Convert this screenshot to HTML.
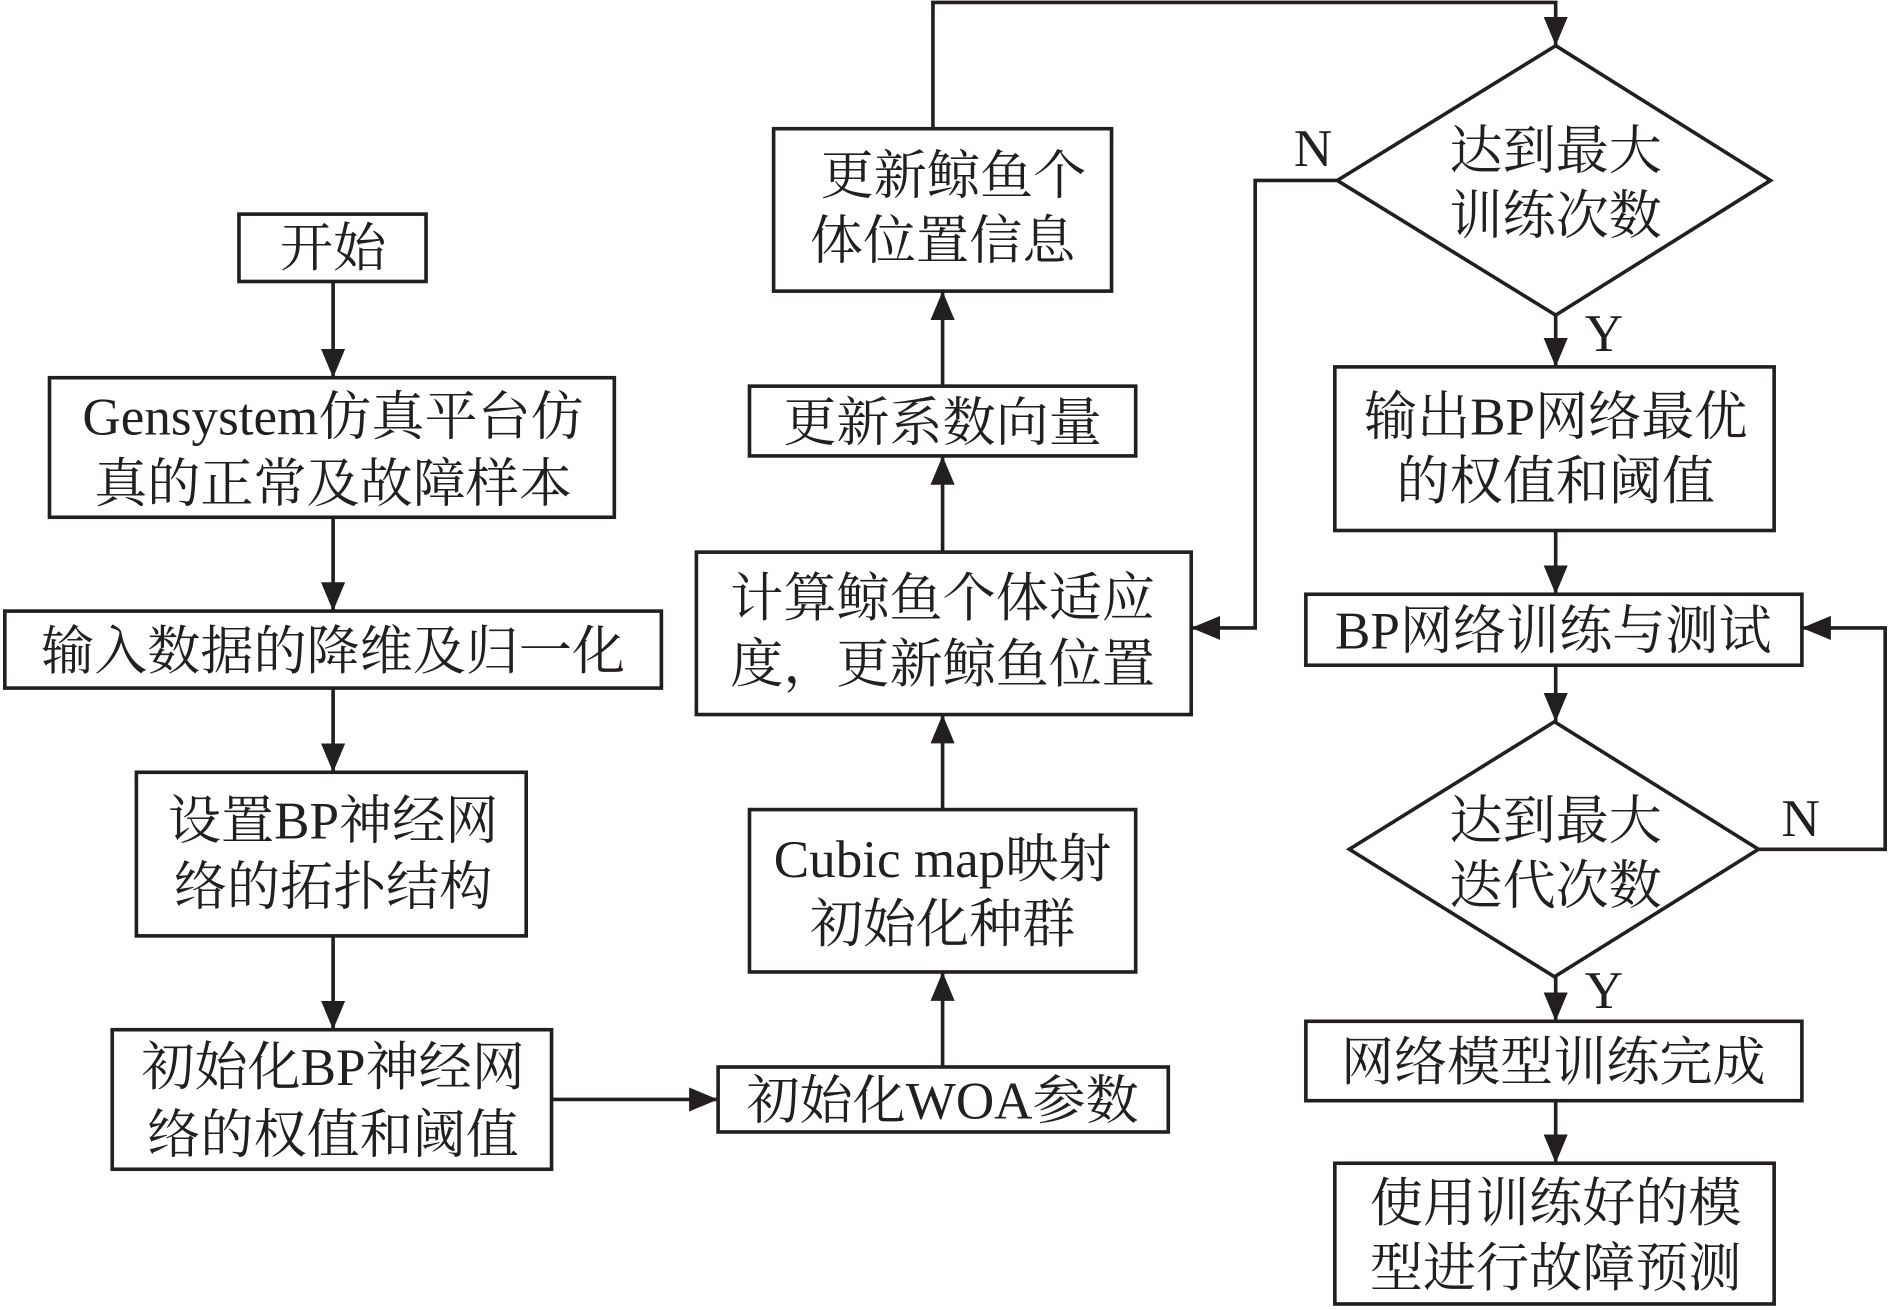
<!DOCTYPE html>
<html><head><meta charset="utf-8"><style>
html,body{margin:0;padding:0;background:#fff;}
svg{display:block;}
text{font-family:"Liberation Serif","Noto Serif CJK SC",serif;font-size:44px;fill:#231f20;text-anchor:middle;}
.l{font-size:42px;}
</style></head><body>
<svg width="1890" height="1310" viewBox="0 0 1566 1089" preserveAspectRatio="none" xmlns="http://www.w3.org/2000/svg">
<defs><marker id="a" markerWidth="10" markerHeight="10" refX="9" refY="5" orient="auto" markerUnits="userSpaceOnUse" viewBox="0 0 10 10"><path d="M0,0 L10,5 L0,10 z" fill="#231f20"/></marker>
<marker id="b" markerWidth="24" markerHeight="24" refX="24" refY="12" orient="auto" markerUnits="userSpaceOnUse" viewBox="0 0 24 24"><path d="M0,2 L24,12 L0,22 z" fill="#231f20"/></marker></defs>
<g fill="none" stroke="#231f20" stroke-width="3">
<rect x="198" y="178" width="155" height="56"/>
<rect x="41" y="314" width="468" height="116"/>
<rect x="4" y="508" width="544" height="64"/>
<rect x="113" y="642" width="323" height="136"/>
<rect x="93" y="856" width="364" height="116"/>
<rect x="595" y="887" width="373" height="54"/>
<rect x="621" y="673" width="320" height="135"/>
<rect x="577" y="459" width="410" height="135"/>
<rect x="621" y="321" width="320" height="58"/>
<rect x="641" y="107" width="280" height="135"/>
<polygon points="1289,38 1467,150 1289,262 1108,150"/>
<rect x="1106" y="305" width="364" height="136"/>
<rect x="1082" y="494" width="411" height="59"/>
<polygon points="1288,600 1457,706 1288,812 1118,706"/>
<rect x="1082" y="849" width="411" height="66"/>
<rect x="1106" y="967" width="364" height="117"/>
<g marker-end="url(#b)">
<line x1="276" y1="234" x2="276" y2="314"/>
<line x1="276" y1="430" x2="276" y2="508"/>
<line x1="276" y1="572" x2="276" y2="642"/>
<line x1="276" y1="778" x2="276" y2="856"/>
<line x1="457" y1="914" x2="595" y2="914"/>
<line x1="781" y1="887" x2="781" y2="808"/>
<line x1="781" y1="673" x2="781" y2="594"/>
<line x1="781" y1="459" x2="781" y2="379"/>
<line x1="781" y1="321" x2="781" y2="242"/>
<polyline points="773,107 773,2 1289,2 1289,38"/>
<polyline points="1108,150 1040,150 1040,522 987,522"/>
<line x1="1289" y1="262" x2="1289" y2="305"/>
<line x1="1289" y1="441" x2="1289" y2="494"/>
<line x1="1289" y1="553" x2="1289" y2="600"/>
<polyline points="1457,706 1562,706 1562,522 1493,522"/>
<line x1="1289" y1="812" x2="1289" y2="849"/>
<line x1="1289" y1="915" x2="1289" y2="967"/>
</g></g>
<text x="276" y="221">开始</text>
<text x="276" y="361">Gensystem仿真平台仿</text>
<text x="276" y="417">真的正常及故障样本</text>
<text x="276" y="556">输入数据的降维及归一化</text>
<text x="276" y="697">设置BP神经网</text>
<text x="276" y="752">络的拓扑结构</text>
<text x="276" y="902">初始化BP神经网</text>
<text x="276" y="958">络的权值和阈值</text>
<text x="781" y="930">初始化WOA参数</text>
<text x="781" y="729">Cubic map映射</text>
<text x="781" y="783">初始化种群</text>
<text x="781" y="512">计算鲸鱼个体适应</text>
<text x="781" y="567">度，更新鲸鱼位置</text>
<text x="781" y="366">更新系数向量</text>
<text x="790" y="161">更新鲸鱼个</text>
<text x="781" y="215">体位置信息</text>
<text x="1289" y="140">达到最大</text>
<text x="1289" y="194">训练次数</text>
<text x="1088" y="138">N</text>
<text x="1329" y="292">Y</text>
<text x="1289" y="361">输出BP网络最优</text>
<text x="1289" y="415">的权值和阈值</text>
<text x="1287" y="539">BP网络训练与测试</text>
<text x="1289" y="697">达到最大</text>
<text x="1289" y="751">迭代次数</text>
<text x="1492" y="695">N</text>
<text x="1329" y="838">Y</text>
<text x="1287" y="898">网络模型训练完成</text>
<text x="1289" y="1015">使用训练好的模</text>
<text x="1289" y="1069">型进行故障预测</text>
</svg>
</body></html>
